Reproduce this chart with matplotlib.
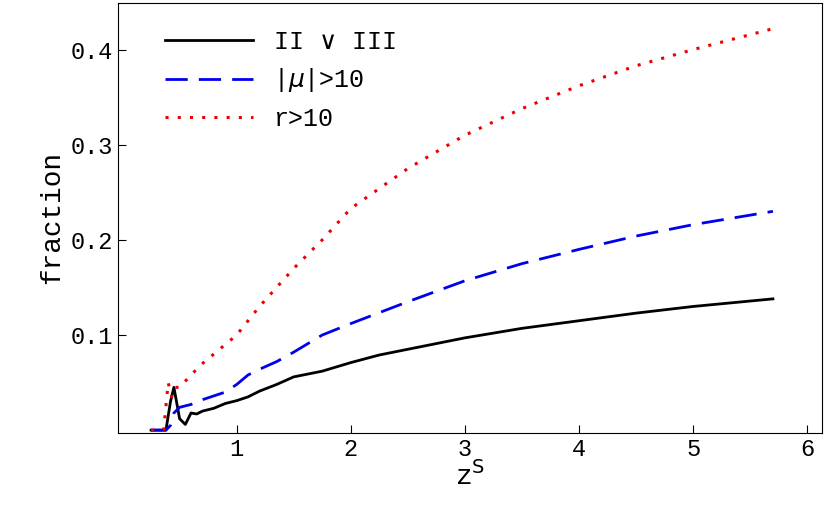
import matplotlib
matplotlib.use("Agg")
import matplotlib.pyplot as plt

# z^S values and fractions
z_black = [0.25, 0.38, 0.42, 0.45, 0.5, 0.55, 0.6, 0.65, 0.7, 0.8, 0.9, 1.0, 1.1, 1.2, 1.35, 1.5, 1.75, 2.0, 2.25, 2.5, 3.0, 3.5, 4.0, 4.5, 5.0, 5.7]
f_black = [0.0, 0.0, 0.03, 0.045, 0.012, 0.006, 0.018, 0.017, 0.02, 0.023, 0.028, 0.031, 0.035, 0.041, 0.048, 0.056, 0.062, 0.071, 0.079, 0.085, 0.097, 0.107, 0.115, 0.123, 0.130, 0.138]

z_blue = [0.25, 0.38, 0.42, 0.45, 0.5, 0.6, 0.7, 0.8, 0.9, 1.0, 1.1, 1.2, 1.35, 1.5, 1.75, 2.0, 2.5, 3.0, 3.5, 4.0, 4.5, 5.0, 5.7]
f_blue = [0.0, 0.0, 0.005, 0.018, 0.024, 0.027, 0.032, 0.036, 0.04, 0.048, 0.058, 0.064, 0.072, 0.082, 0.1, 0.112, 0.135, 0.157, 0.175, 0.19, 0.204, 0.216, 0.23]

z_red = [0.25, 0.36, 0.4, 0.43, 0.46, 0.5, 0.6, 0.7, 0.8, 0.9, 1.0, 1.2, 1.5, 1.75, 2.0, 2.5, 3.0, 3.5, 4.0, 4.5, 5.0, 5.7]
f_red = [0.0, 0.0, 0.05, 0.035, 0.045, 0.045, 0.058, 0.07, 0.08, 0.09, 0.1, 0.13, 0.17, 0.2, 0.233, 0.275, 0.31, 0.338, 0.362, 0.383, 0.4, 0.422]

plt.rcParams["font.family"] = "Liberation Mono"
plt.rcParams["mathtext.fontset"] = "dejavusans"

fig = plt.figure(figsize=(8.3, 5.13), dpi=100)
ax = fig.add_axes([118 / 830, 1 - 433 / 513, 704 / 830, 430 / 513])

ax.plot(z_black, f_black, color="black", lw=2, label="II $\\vee$ III")
ax.plot(z_blue, f_blue, color="#0000ee", lw=2, dashes=(8, 4), label="|$\\mu$|>10")
ax.plot(z_red, f_red, color="#ee0000", lw=2.2, dashes=(1, 3), label="r>10")

ax.set_xlim(-0.04, 6.13)
ax.set_ylim(-0.003, 0.449)
ax.set_xticks([1, 2, 3, 4, 5, 6])
ax.set_yticks([0.1, 0.2, 0.3, 0.4])
ax.tick_params(labelsize=17, direction="in", length=6)
ax.set_xlabel("z$^\\mathrm{S}$", fontsize=20, labelpad=0)
ax.set_ylabel("fraction", fontsize=20)
ax.legend(loc="upper left", bbox_to_anchor=(0.035, 0.99), frameon=False,
          prop={"family": "Liberation Mono", "size": 18},
          handlelength=3.5, labelspacing=0.5)
fig.savefig("out.png", dpi=100)
